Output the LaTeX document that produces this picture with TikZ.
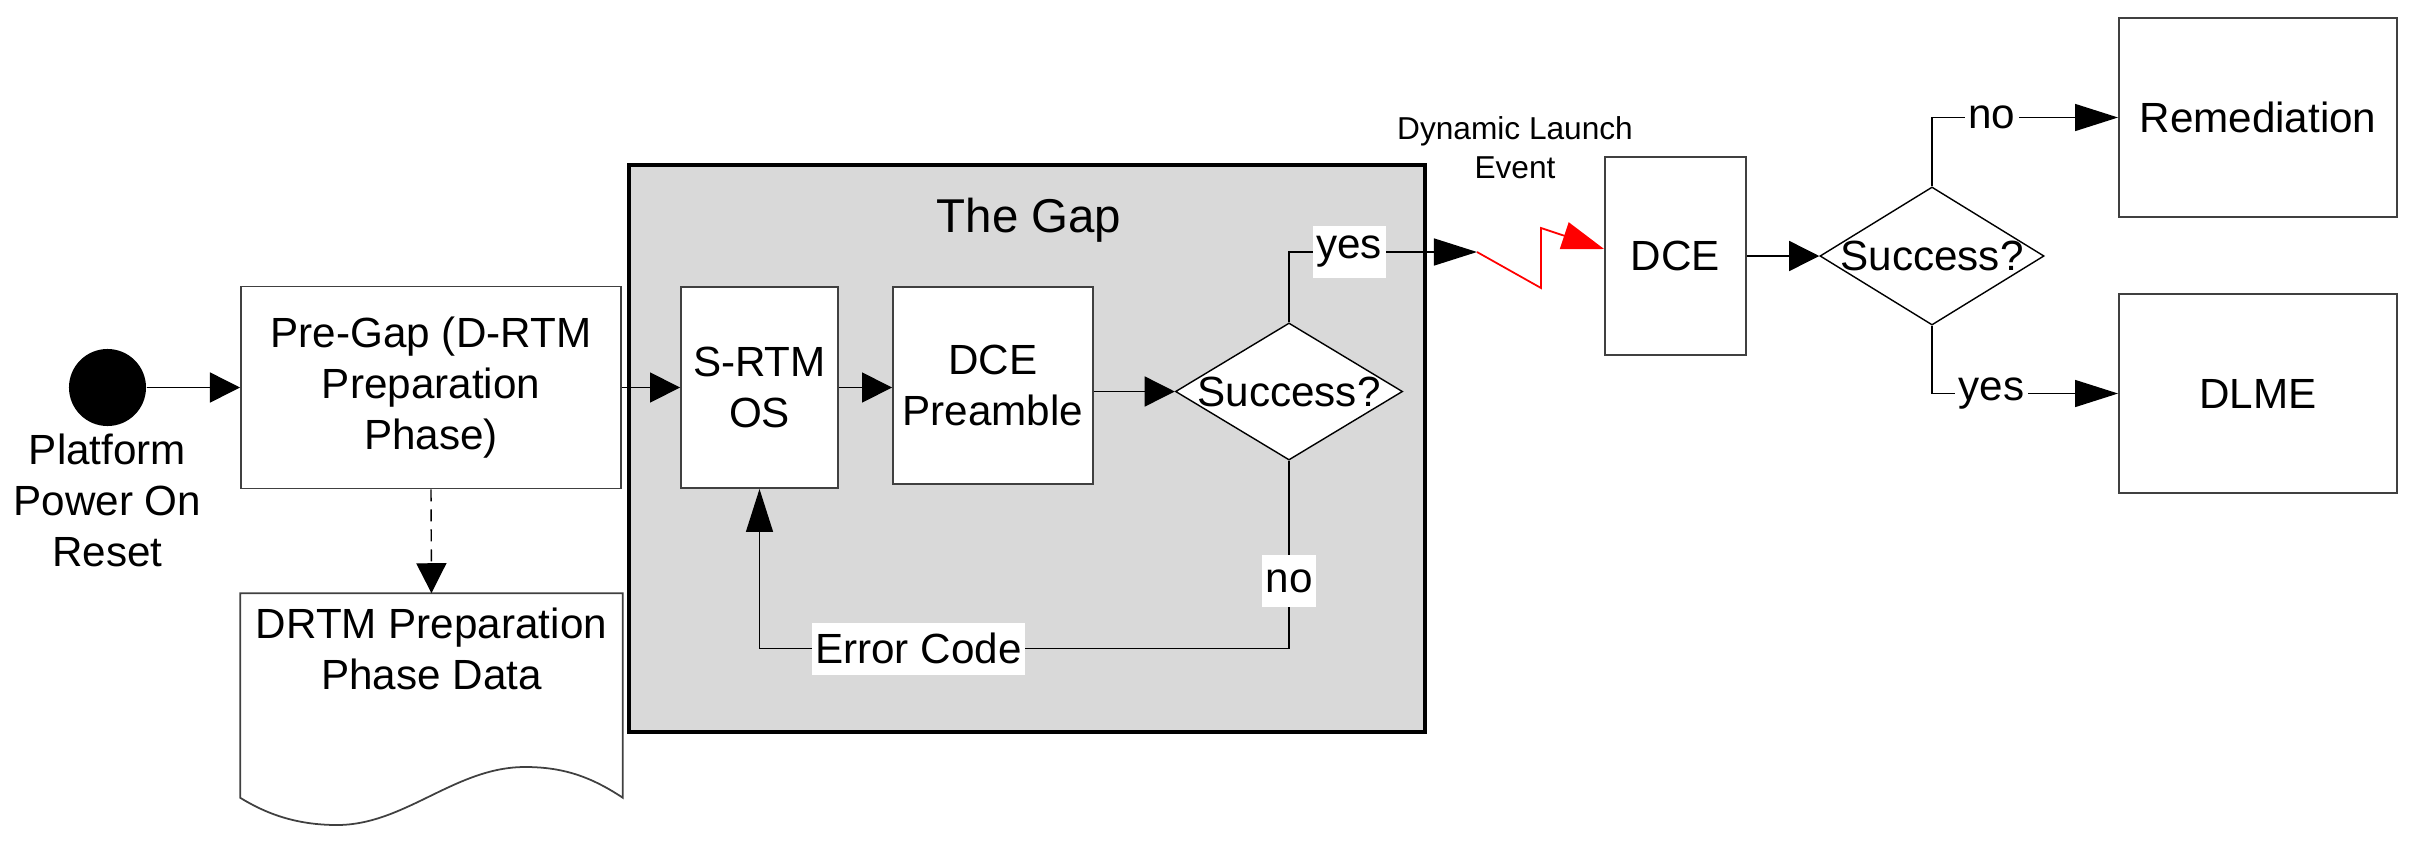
\documentclass[tikz,border=0pt]{standalone}
\usepackage{fontspec}
\setmainfont{Liberation Sans}
\usetikzlibrary{positioning,shapes.geometric,arrows.meta}
\definecolor{gapgray}{RGB}{217,217,217}
\definecolor{edgegray}{RGB}{64,64,64}
\begin{document}
\begin{tikzpicture}[x=0.01cm,y=-0.01cm,
    font=\fontsize{12}{14.5}\selectfont,
    box/.style={draw=edgegray,line width=0.5pt,fill=white,align=center,inner sep=0pt},
    decision/.style={diamond,draw=black,line width=0.4pt,fill=white,inner sep=0pt},
    lbl/.style={fill=white,inner xsep=1pt,inner ysep=0pt,minimum height=0.52cm},
    arr/.style={line width=0.4pt,-{Triangle[length=0.3cm,width=0.3cm]}},
    bigarr/.style={line width=0.4pt,-{Triangle[length=0.43cm,width=0.27cm]}}]
  \useasboundingbox (0,0) rectangle (2427,842);
  % The Gap
  \node[draw=black,line width=1pt,fill=gapgray,minimum width=7.96cm,minimum height=5.67cm]
    (gap) at (1027,448.5) {};
  \node[anchor=base,font=\fontsize{13.5}{16}\selectfont] (gaptitle) at (1029,232) {The Gap};
  % start
  \node[circle,fill=black,minimum size=0.77cm,inner sep=0pt] (por) at (107.5,387.5) {};
  \node[below=0.06cm of por,align=center,inner sep=0pt] (porlbl) {Platform\\Power On\\Reset};
  \node[box,minimum width=3.8cm,minimum height=2.02cm] (pregap) at (431,387.5)
    {Pre-Gap (D-RTM\\Preparation\\Phase)};
  % document shape
  \node[minimum width=3.81cm,minimum height=2.03cm,inner sep=0pt] (ppd) at (431.5,695.5) {};
  \draw[draw=edgegray,line width=0.5pt,fill=white]
    (ppd.south west) -- (ppd.north west) -- (ppd.north east) -- (ppd.south east)
    .. controls (590,776) and (562,767) .. (525,767)
    .. controls (455,767) and (405,825) .. (337,825)
    .. controls (295,825) and (265,813) .. (ppd.south west) -- cycle;
  \node[anchor=north,align=center,inner sep=0pt] (ppdtxt) at (431.5,607)
    {DRTM Preparation\\Phase Data};
  % inside the gap
  \node[box,minimum width=1.57cm,minimum height=2.01cm] (srtm) at (759.5,387.5) {S-RTM\\OS};
  \node[box,minimum width=2cm,minimum height=1.97cm] (preamble) at (993,385.5) {DCE\\Preamble};
  \node[decision,minimum width=2.27cm,minimum height=1.37cm,label={center:Success?}]
    (succA) at (1289,391.5) {};
  % after the gap
  \node[align=center,inner sep=0pt,font=\fontsize{9}{11.1}\selectfont] (dletxt) at (1515,148)
    {Dynamic Launch\\Event};
  \node[box,minimum width=1.41cm,minimum height=1.98cm] (dce) at (1675.5,256) {DCE};
  \node[decision,minimum width=2.24cm,minimum height=1.38cm,label={center:Success?}]
    (succB) at (1932,256) {};
  \node[box,minimum width=2.78cm,minimum height=1.99cm] (remed) at (2258,117.5) {Remediation};
  \node[box,minimum width=2.78cm,minimum height=1.99cm] (dlme) at (2258,393.5) {DLME};
  \coordinate (dlstart) at (1477,252);
  % connectors
  \draw[arr] (por) -- (pregap);
  \draw[arr,dash pattern=on 0.12cm off 0.08cm] (pregap.south) -- (ppd.north);
  \draw[arr] (pregap) -- (srtm);
  \draw[arr] (srtm.east) -- (srtm.east -| preamble.west);
  \draw[arr] (succA.west -| preamble.east) -- (succA.west);
  \draw[bigarr] (succA.north) |- node[lbl,pos=0.66] {yes} (dlstart);
  \draw[bigarr] (succA.south) -- node[lbl,pos=0.64] {no} ++(0,188)
    -| node[lbl,pos=0.35] {Error Code} (srtm.south);
  \draw[red,line width=0.5pt,-{Triangle[length=0.42cm,width=0.28cm]}]
    (dlstart) -- ++(64,36) -- ++(0,-60) -- ([yshift=0.07cm]dce.west);
  \draw[arr] (dce) -- (succB);
  \draw[bigarr] (succB.north) |- node[lbl,pos=0.66] {no} (remed.west);
  \draw[bigarr] (succB.south) |- node[lbl,pos=0.66] {yes} (dlme.west);
\end{tikzpicture}
\end{document}
